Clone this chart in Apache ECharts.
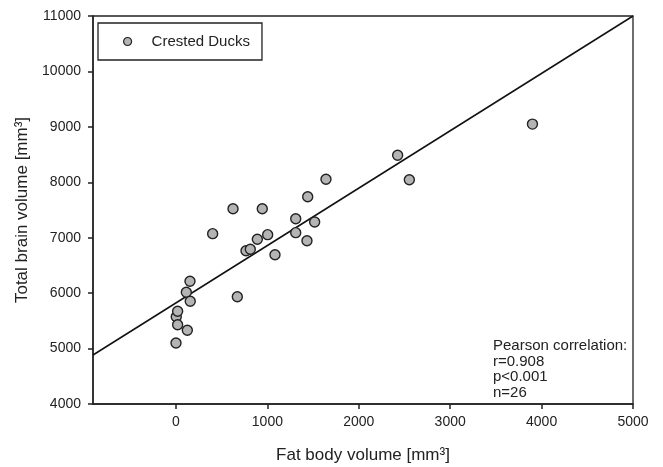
<!DOCTYPE html>
<html><head><meta charset="utf-8">
<script src="https://cdn.jsdelivr.net/npm/echarts@6/dist/echarts.min.js"></script>
<style>html,body{margin:0;padding:0;background:#fff}#c{width:663px;height:467px}</style>
</head><body><div id="c"></div>
<script>
const seriesName = 'Crested Ducks';
const fatBody = [0, 3, 18, 18, 124, 113, 153, 156, 671, 401, 624, 766, 813, 890, 944, 1003, 1083, 1310, 1310, 1433, 1441, 1517, 1641, 2425, 2553, 3900];
const brainVol = [5100, 5575, 5672, 5431, 5330, 6015, 6214, 5853, 5936, 7073, 7523, 6766, 6791, 6971, 7523, 7055, 6694, 7343, 7091, 6946, 7740, 7283, 8054, 8487, 8047, 9050];
const fitX = [-908, 5000];
const fitY = [4884, 11000];
const xTicks = [0, 1000, 2000, 3000, 4000, 5000];
const yTicks = [4000, 5000, 6000, 7000, 8000, 9000, 10000, 11000];
const statLines = ['Pearson correlation:', 'r=0.908', 'p<0.001', 'n=26'];

const font = '"Liberation Sans", Arial, sans-serif';
const ink = '#222';
const chart = echarts.init(document.getElementById('c'), null, {renderer: 'canvas'});
chart.setOption({
  animation: false,
  backgroundColor: '#fff',
  grid: {left: 93, right: 30, top: 16, bottom: 63, show: true, borderColor: ink, borderWidth: 1.3,
         containLabel: false, outerBoundsMode: 'none'},
  legend: {
    data: [seriesName], left: 98, top: 23, orient: 'vertical',
    borderColor: ink, borderWidth: 1.3, padding: [11, 12, 11, 25],
    itemWidth: 8, itemHeight: 8, icon: 'circle',
    itemStyle: {borderWidth: 1.2},
    textStyle: {fontFamily: font, fontSize: 15, color: ink, padding: [0, 0, 0, 15]}
  },
  xAxis: {
    type: 'value', min: fitX[0], max: 5000,
    name: 'Fat body volume [mm³]', nameLocation: 'middle', nameGap: 43,
    nameTextStyle: {fontFamily: font, fontSize: 17, color: ink},
    splitLine: {show: false},
    axisLine: {show: true, onZero: false, lineStyle: {color: ink, width: 1.5}},
    axisTick: {show: true, customValues: xTicks, length: 5, lineStyle: {color: ink, width: 1.5}},
    axisLabel: {customValues: xTicks, formatter: v => String(v), fontFamily: font, fontSize: 14, color: ink, margin: 11}
  },
  yAxis: {
    type: 'value', min: 4000, max: 11000, interval: 1000,
    name: 'Total brain volume [mm³]', nameLocation: 'middle', nameGap: 61,
    nameTextStyle: {fontFamily: font, fontSize: 17, color: ink},
    splitLine: {show: false},
    axisLine: {show: true, onZero: false, lineStyle: {color: ink, width: 1.5}},
    axisTick: {show: true, customValues: yTicks, length: 5, lineStyle: {color: ink, width: 1.5}},
    axisLabel: {customValues: yTicks, formatter: v => String(v), fontFamily: font, fontSize: 14, color: ink, margin: 12}
  },
  series: [
    {
      name: 'fit', type: 'line', data: fitX.map((x, i) => [x, fitY[i]]),
      symbol: 'none', silent: true, lineStyle: {color: '#111', width: 1.5}, z: 1
    },
    {
      name: seriesName, type: 'scatter', data: fatBody.map((x, i) => [x, brainVol[i]]),
      symbol: 'circle', symbolSize: 10,
      itemStyle: {color: '#b4b4b4', borderColor: '#222', borderWidth: 1.4, opacity: 1}, z: 3
    }
  ],
  graphic: [{
    type: 'text', left: 493, top: 338,
    style: {text: statLines.join('\n'), fontFamily: font, fontSize: 15, lineHeight: 15.7, fill: ink}
  }]
});
</script></body></html>
